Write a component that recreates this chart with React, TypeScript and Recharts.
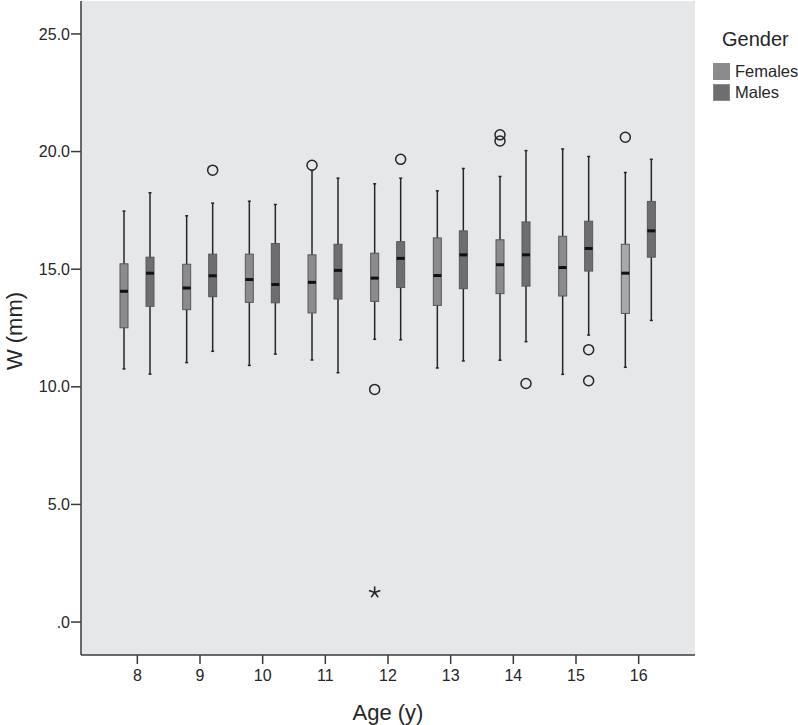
import React from "react";
import { Bar, CartesianGrid, ComposedChart, XAxis, YAxis } from "recharts";

const ages = ["8", "9", "10", "11", "12", "13", "14", "15", "16"];
const seriesNames = ["Females", "Males"];

const femaleLow = [10.76, 11.03, 10.91, 11.14, 12.02, 10.8, 11.13, 10.53, 10.83];
const femaleQ1 = [12.51, 13.28, 13.59, 13.14, 13.63, 13.46, 13.96, 13.86, 13.12];
const femaleMedian = [14.06, 14.2, 14.56, 14.44, 14.62, 14.73, 15.19, 15.07, 14.83];
const femaleQ3 = [15.23, 15.21, 15.64, 15.61, 15.68, 16.33, 16.25, 16.4, 16.06];
const femaleHigh = [17.47, 17.27, 17.89, 19.2, 18.63, 18.33, 18.94, 20.11, 19.11];
const femaleOutliers = [[], [], [], [19.42], [9.89], [], [20.71, 20.45], [], [20.61]];
const femaleExtremes = [[], [], [], [], [1.26], [], [], [], []];

const maleLow = [10.54, 11.51, 11.39, 10.6, 12.0, 11.1, 11.92, 12.2, 12.82];
const maleQ1 = [13.42, 13.83, 13.57, 13.73, 14.22, 14.17, 14.28, 14.92, 15.51];
const maleMedian = [14.83, 14.72, 14.35, 14.95, 15.46, 15.61, 15.61, 15.88, 16.63];
const maleQ3 = [15.51, 15.64, 16.09, 16.06, 16.17, 16.63, 17.01, 17.04, 17.88];
const maleHigh = [18.25, 17.81, 17.75, 18.87, 18.87, 19.28, 20.04, 19.79, 19.67];
const maleOutliers = [[], [19.21], [], [], [19.67], [], [10.14], [11.58, 10.26], []];
const maleExtremes = [[], [], [], [], [], [], [], [], []];

const yTicks = [0, 5, 10, 15, 20, 25];

const FONT = "'Liberation Sans', Arial, sans-serif";
const INK = "#262626";
const FEMALE_FILL = "#8b8b8e";
const FEMALE_LIGHT_FILL = "#a9a9ab"; // the 16 y female box is drawn lighter
const MALE_FILL = "#6e6e71";

const rows = ages.map((age, i) => ({
  age,
  f: { low: femaleLow[i], q1: femaleQ1[i], med: femaleMedian[i], q3: femaleQ3[i], high: femaleHigh[i], out: femaleOutliers[i], ext: femaleExtremes[i] },
  m: { low: maleLow[i], q1: maleQ1[i], med: maleMedian[i], q3: maleQ3[i], high: maleHigh[i], out: maleOutliers[i], ext: maleExtremes[i] },
}));

function Star({ cx, cy, r }: { cx: number; cy: number; r: number }) {
  const arms = [0, 1, 2, 3, 4].map((i) => {
    const a = (-90 + i * 72) * (Math.PI / 180);
    return <line key={i} x1={cx} y1={cy} x2={cx + r * Math.cos(a)} y2={cy + r * Math.sin(a)} stroke={INK} strokeWidth={1.6} />;
  });
  return <g>{arms}</g>;
}

function BoxShape(props: any) {
  const { x, y, width, height, payload, sex } = props;
  const s = payload[sex];
  const top = Math.min(y, y + height);
  const h = Math.abs(height);
  const k = h / (s.high - s.low);
  const py = (v: number) => top + (s.high - v) * k;
  const cx = x + width / 2;
  const fill = sex === "m" ? MALE_FILL : payload.age === "16" ? FEMALE_LIGHT_FILL : FEMALE_FILL;
  return (
    <g>
      <line x1={cx} x2={cx} y1={py(s.high)} y2={py(s.low)} stroke={INK} strokeWidth={1.5} />
      <line x1={cx - 1.5} x2={cx + 1.5} y1={py(s.high)} y2={py(s.high)} stroke={INK} strokeWidth={1.5} />
      <line x1={cx - 1.5} x2={cx + 1.5} y1={py(s.low)} y2={py(s.low)} stroke={INK} strokeWidth={1.5} />
      <rect x={x} y={py(s.q3)} width={width} height={py(s.q1) - py(s.q3)} fill={fill} stroke="#58585a" strokeWidth={1} />
      <line x1={x} x2={x + width} y1={py(s.med)} y2={py(s.med)} stroke="#111" strokeWidth={3} />
      {s.out.map((v: number, i: number) => (
        <circle key={"o" + i} cx={cx} cy={py(v)} r={5} fill="none" stroke={INK} strokeWidth={1.5} />
      ))}
      {s.ext.map((v: number, i: number) => (
        <Star key={"e" + i} cx={cx} cy={py(v)} r={6} />
      ))}
    </g>
  );
}

function YTitle(props: any) {
  const { viewBox } = props;
  const cx = 14;
  const cy = viewBox.y + viewBox.height / 2 + 3;
  return (
    <text x={cx} y={cy} transform={`rotate(-90 ${cx} ${cy})`} textAnchor="middle" dominantBaseline="central" fontSize={22} fill={INK} fontFamily={FONT}>
      W (mm)
    </text>
  );
}

function XTitle(props: any) {
  const { viewBox } = props;
  return (
    <text x={viewBox.x + viewBox.width / 2} y={720} textAnchor="middle" fontSize={22} fill={INK} fontFamily={FONT}>
      Age (y)
    </text>
  );
}

export default function App() {
  const axisStroke = { stroke: "#3a3a3a", strokeWidth: 1.5 };
  return (
    <div style={{ position: "absolute", left: 0, top: 0, width: 798, height: 725, background: "#fff", fontFamily: FONT }}>
      <ComposedChart width={798} height={725} data={rows} margin={{ top: 1, right: 103, bottom: 0, left: 0 }} barSize={8} barGap={18}>
        <CartesianGrid fill="#e6e7e9" stroke="none" horizontal={false} vertical={false} />
        <XAxis
          dataKey="age"
          type="category"
          height={70}
          padding={{ left: 25, right: 25 }}
          axisLine={axisStroke}
          tickLine={axisStroke}
          tickSize={9}
          tickMargin={6}
          tick={{ fontSize: 16, fill: INK, fontFamily: FONT }}
          label={<XTitle />}
        />
        <XAxis xAxisId="top" dataKey="age" orientation="top" height={0} tick={false} tickLine={false} axisLine={axisStroke} padding={{ left: 25, right: 25 }} />
        <YAxis
          type="number"
          domain={[-1.4, 26.4]}
          ticks={yTicks}
          width={81}
          allowDataOverflow
          axisLine={axisStroke}
          tickLine={axisStroke}
          tickSize={10}
          tickMargin={1}
          tickFormatter={(v: number) => (v === 0 ? ".0" : v.toFixed(1))}
          tick={{ fontSize: 16, fill: INK, fontFamily: FONT }}
          label={<YTitle />}
        />
        <YAxis yAxisId="right" orientation="right" width={0} domain={[-1.4, 26.4]} tick={false} tickLine={false} axisLine={axisStroke} />
        <Bar
          name={seriesNames[0]}
          dataKey={(d: any) => [d.f.low, d.f.high]}
          isAnimationActive={false}
          shape={(p: any) => <BoxShape {...p} sex="f" />}
        />
        <Bar
          name={seriesNames[1]}
          dataKey={(d: any) => [d.m.low, d.m.high]}
          isAnimationActive={false}
          shape={(p: any) => <BoxShape {...p} sex="m" />}
        />
      </ComposedChart>
      <div style={{ position: "absolute", left: 722, top: 27, fontSize: 20, color: INK, lineHeight: "24px" }}>Gender</div>
      {seriesNames.map((name, i) => (
        <div key={name} style={{ position: "absolute", left: 713, top: 63 + i * 21, height: 17, display: "flex", alignItems: "center", fontSize: 16.5, color: INK }}>
          <span style={{ display: "inline-block", width: 15, height: 15, background: i === 0 ? FEMALE_FILL : MALE_FILL, border: "1px solid #8a8a8a", marginRight: 5 }} />
          {name}
        </div>
      ))}
    </div>
  );
}
